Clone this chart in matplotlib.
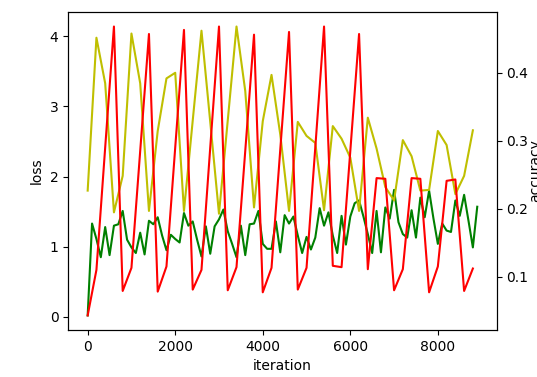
import numpy as np
import matplotlib
matplotlib.use('Agg')
import matplotlib.pyplot as plt

# train loss, every 100 iterations
train_iters = np.arange(0, 9000, 100)
train_loss = [0.02, 1.33, 1.11, 0.85, 1.28, 0.88, 1.30, 1.32, 1.51, 1.10,
              0.99, 0.91, 1.20, 0.89, 1.37, 1.32, 1.42, 1.16, 0.95, 1.17,
              1.11, 1.06, 1.48, 1.30, 1.36, 1.10, 0.86, 1.29, 0.90, 1.29,
              1.39, 1.53, 1.22, 1.04, 0.85, 1.30, 0.88, 1.32, 1.33, 1.51,
              1.04, 0.97, 0.97, 1.36, 0.92, 1.45, 1.33, 1.43, 1.16, 0.91,
              1.14, 0.96, 1.13, 1.55, 1.30, 1.49, 1.16, 0.91, 1.44, 1.03,
              1.43, 1.62, 1.66, 1.43, 1.18, 0.91, 1.51, 0.92, 1.56, 1.40,
              1.81, 1.35, 1.18, 1.13, 1.52, 1.13, 1.70, 1.42, 1.80, 1.40,
              1.04, 1.33, 1.23, 1.21, 1.66, 1.44, 1.74, 1.37, 0.99, 1.57]

# test loss / accuracy, every 200 iterations
test_iters = np.arange(0, 9000, 200)
test_loss = [1.80, 3.98, 3.33, 1.49, 2.01, 4.04, 3.33, 1.51, 2.65, 3.40,
             3.48, 1.51, 2.80, 4.08, 2.78, 1.47, 2.80, 4.14, 3.22, 1.56,
             2.79, 3.45, 2.60, 1.51, 2.78, 2.58, 2.48, 1.52, 2.72, 2.54,
             2.27, 1.51, 2.84, 2.40, 1.85, 1.66, 2.52, 2.29, 1.80, 1.81,
             2.65, 2.45, 1.75, 2.01, 2.66]
test_acc = [0.043, 0.110, 0.290, 0.468, 0.079, 0.113, 0.285, 0.457, 0.078, 0.115,
            0.290, 0.463, 0.081, 0.110, 0.290, 0.468, 0.080, 0.114, 0.285, 0.456,
            0.077, 0.113, 0.287, 0.460, 0.081, 0.113, 0.290, 0.468, 0.116, 0.114,
            0.285, 0.457, 0.111, 0.245, 0.244, 0.080, 0.111, 0.245, 0.244, 0.077,
            0.115, 0.241, 0.243, 0.079, 0.112]

fig, ax1 = plt.subplots(figsize=(5.37, 3.77), dpi=100)
fig.subplots_adjust(left=0.127, right=0.925, top=0.968, bottom=0.125)
ax2 = ax1.twinx()

ax1.plot(train_iters, train_loss, 'g')
ax1.plot(test_iters, test_loss, 'y')
ax2.plot(test_iters, test_acc, 'r')

ax1.set_xlabel('iteration')
ax1.set_ylabel('loss')
ax2.set_ylabel('accuracy', labelpad=0)  # sits against the right edge like the original

plt.savefig('out.png')
